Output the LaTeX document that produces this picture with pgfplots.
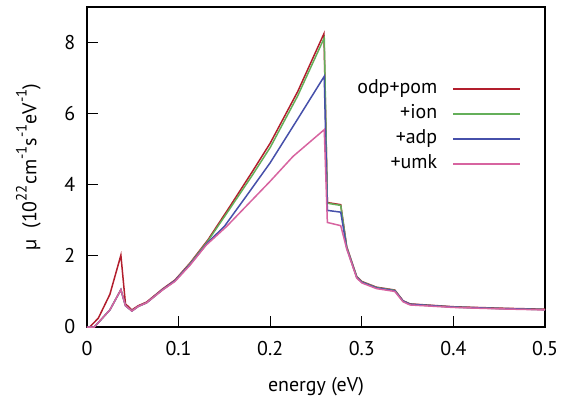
\documentclass[border=0pt]{standalone}
\usepackage{pgfplots}
\pgfplotsset{compat=1.18}
\usepackage{fontspec}
\setmainfont{PT Sans}

\definecolor{cred}{RGB}{178,30,45}
\definecolor{cgreen}{RGB}{100,175,90}
\definecolor{cblue}{RGB}{70,80,170}
\definecolor{cpink}{RGB}{215,100,160}

\newcommand{\supr}[1]{\raisebox{0.5em}{\fontsize{15}{15}\selectfont #1}}

\begin{document}
\begin{tikzpicture}
\fontsize{20}{24}\selectfont

\begin{axis}[
  name=ax,
  scale only axis,
  width=458bp, height=320bp,
  xmin=0, xmax=0.5, ymin=0, ymax=9,
  xtick={0,0.1,0.2,0.3,0.4,0.5},
  xticklabels={0,0.1,0.2,0.3,0.4,0.5},
  ytick={0,2,4,6,8},
  tick align=inside,
  tick pos=left,
  major tick length=11bp,
  axis line style={line width=1.4bp},
  every tick/.style={black,line width=1.2bp},
  /pgf/number format/assume math mode=true,
  tick label style={font=\fontsize{20}{24}\selectfont},
  xticklabel style={yshift=-7bp},
  yticklabel style={xshift=-5bp},
  label style={font=\fontsize{20}{24}\selectfont},
  xlabel={energy (eV)},
  xlabel style={at={(axis description cs:0.5,-0.1875)},anchor=center},
  ylabel={µ~ (10\supr{22}cm\supr{-1}s\supr{-1}eV\supr{-1})},
  ylabel style={at={(axis description cs:-0.128,0.5)},anchor=center},
  legend cell align=right,
  legend plot pos=right,
  legend style={draw=none, fill=none, at={(axis description cs:0.955,0.782)}, anchor=north east,
    font=\fontsize{20}{24}\selectfont, row sep=5bp, column sep=14bp,
    nodes={inner sep=1.5bp, text height=13bp, text depth=4bp}},
  legend image code/.code={\draw[#1,line width=1.5bp] (0bp,0bp) -- (67bp,0bp);},
  every axis plot/.append style={line width=1.5bp},
]

% odp+pom
\addplot[cred] coordinates {
(0,0) (0.003,0) (0.0124,0.25) (0.025,0.92) (0.037,2.02) (0.042,0.65)
(0.049,0.48) (0.056,0.6) (0.065,0.7) (0.083,1.08) (0.096,1.32)
(0.1125,1.8) (0.132,2.45) (0.156,3.39) (0.18,4.35) (0.2,5.17)
(0.23,6.62) (0.2587,8.25) (0.2624,3.50) (0.277,3.44) (0.2835,2.26) (0.2944,1.42)
(0.300,1.28) (0.316,1.12) (0.336,1.04) (0.345,0.74) (0.3526,0.65)
(0.4,0.57) (0.45,0.53) (0.5,0.50)
};
\addlegendentry{odp+pom}

% +ion
\addplot[cgreen] coordinates {
(0,0) (0.008,0) (0.025,0.48) (0.037,1.05) (0.042,0.6) (0.049,0.45)
(0.056,0.58) (0.065,0.68) (0.083,1.06) (0.096,1.3) (0.1125,1.78)
(0.132,2.42) (0.156,3.33) (0.18,4.25) (0.2,5.05) (0.23,6.5) (0.259,8.13)
(0.2624,3.48) (0.277,3.42) (0.2835,2.25) (0.2944,1.41) (0.300,1.27)
(0.316,1.11) (0.336,1.03) (0.345,0.73) (0.3526,0.64) (0.4,0.56)
(0.45,0.52) (0.5,0.49)
};
\addlegendentry{+ion}

% +adp
\addplot[cblue] coordinates {
(0,0) (0.008,0) (0.025,0.48) (0.037,1.05) (0.042,0.6) (0.049,0.45)
(0.056,0.58) (0.065,0.68) (0.083,1.06) (0.096,1.3) (0.1125,1.76)
(0.132,2.38) (0.15,2.83) (0.175,3.72) (0.2,4.62) (0.23,5.85)
(0.259,7.05) (0.2624,3.28) (0.277,3.23) (0.2835,2.22) (0.2944,1.40)
(0.300,1.26) (0.316,1.10) (0.336,1.02) (0.345,0.73) (0.3526,0.64)
(0.4,0.56) (0.45,0.52) (0.5,0.49)
};
\addlegendentry{+adp}

% +umk
\addplot[cpink] coordinates {
(0,0) (0.008,0) (0.025,0.48) (0.037,1.05) (0.042,0.6) (0.049,0.45)
(0.056,0.58) (0.065,0.68) (0.083,1.05) (0.096,1.28) (0.1125,1.74)
(0.13,2.3) (0.1525,2.83) (0.2,4.1) (0.225,4.8) (0.259,5.55)
(0.2624,2.94) (0.277,2.85) (0.2835,2.2) (0.2944,1.38) (0.300,1.24)
(0.316,1.08) (0.336,1.0) (0.345,0.71) (0.3526,0.62) (0.4,0.55)
(0.45,0.51) (0.5,0.48)
};
\addlegendentry{+umk}

\end{axis}
\pgfresetboundingbox
\path ([shift={(-87bp,-76bp)}]ax.south west) rectangle ([shift={(18bp,7bp)}]ax.north east);
\end{tikzpicture}
\end{document}
